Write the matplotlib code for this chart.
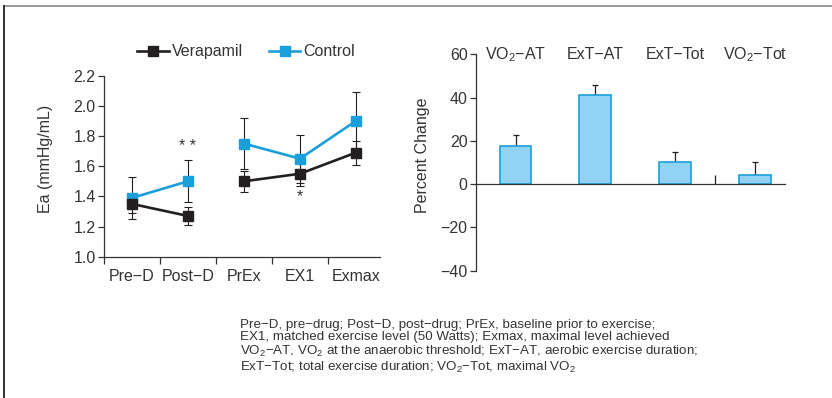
import matplotlib
matplotlib.use("Agg")
import matplotlib.pyplot as plt
from matplotlib.lines import Line2D
import numpy as np

plt.rcParams['font.family'] = ['Liberation Sans', 'DejaVu Sans']
plt.rcParams['mathtext.fontset'] = 'custom'
plt.rcParams['mathtext.rm'] = 'Liberation Sans'
plt.rcParams['mathtext.it'] = 'Liberation Sans'
plt.rcParams['axes.unicode_minus'] = True

# ---- data: left panel ----
stages = ["Pre\u2212D", "Post\u2212D", "PrEx", "EX1", "Exmax"]
verapamil = [1.35, 1.27, 1.50, 1.55, 1.69]
verapamil_err = [0.06, 0.06, 0.07, 0.08, 0.08]
control = [1.39, 1.50, 1.75, 1.65, 1.90]
control_err = [0.14, 0.14, 0.17, 0.16, 0.19]
ea_ticks = [1.0, 1.2, 1.4, 1.6, 1.8, 2.0, 2.2]

# ---- data: right panel ----
measures = ["VO$_2$\u2212AT", "ExT\u2212AT", "ExT\u2212Tot", "VO$_2$\u2212Tot"]
pct_change = [17.7, 41.0, 10.2, 4.3]
pct_err = [5.2, 5.0, 4.7, 6.0]
pct_ticks = [-40, -20, 0, 20, 40, 60]

caption = ("Pre\u2212D, pre\u2212drug; Post\u2212D, post\u2212drug; PrEx, baseline prior to exercise;\n"
           "EX1, matched exercise level (50 Watts); Exmax, maximal level achieved\n"
           "VO$_2$\u2212AT, VO$_2$ at the anaerobic threshold; ExT\u2212AT, aerobic exercise duration;\n"
           "ExT\u2212Tot; total exercise duration; VO$_2$\u2212Tot, maximal VO$_2$")

TXT = '#333333'
AX = '#333333'
BLACK = '#231f20'
BLUE = '#1a9fdb'
BAR_FILL = '#92d2f2'
BAR_EDGE = '#1ba0dc'
FS = 11.5
MS = 7

fig = plt.figure(figsize=(8.32, 3.98), dpi=100)

# frame lines
fig.add_artist(Line2D([4/832, 1], [1-6/398, 1-6/398], color='#888888', lw=1.2))
fig.add_artist(Line2D([4/832, 4/832], [0, 1-6/398], color='#111111', lw=1.2))

# ---- left panel ----
ax1 = fig.add_axes([104/832, 1-256.7/398, 276/832, 181/398])
x = np.arange(len(stages))
ax1.errorbar(x, control, yerr=control_err, fmt='none', ecolor=BLACK, elinewidth=0.8,
             capsize=3, capthick=0.8, zorder=2)
ax1.errorbar(x, verapamil, yerr=verapamil_err, fmt='none', ecolor=BLACK, elinewidth=0.8,
             capsize=3, capthick=0.8, zorder=2)
# segments: pre-drug pair and exercise triple
for seg in (slice(0, 2), slice(2, 5)):
    ax1.plot(x[seg], np.array(control)[seg], color=BLUE, lw=1.9, marker='s', ms=MS,
             zorder=3)
    ax1.plot(x[seg], np.array(verapamil)[seg], color=BLACK, lw=1.9, marker='s', ms=MS,
             zorder=4)
ax1.set_xlim(-0.5, 4.43)
ax1.set_ylim(1.0, 2.2)
ax1.set_yticks(ea_ticks)
ax1.set_yticklabels([f"{t:.1f}" for t in ea_ticks])
ax1.set_xticks(np.arange(len(stages)) - 0.5)
ax1.set_xticklabels([])
ax1.set_xticks(x, minor=True)
ax1.set_xticklabels(stages, minor=True)
ax1.tick_params(axis='x', which='major', length=5, width=0.9, color=AX)
ax1.tick_params(axis='x', which='minor', length=0, pad=9)
ax1.tick_params(axis='y', length=4, width=0.9, color=AX, pad=2)
ax1.tick_params(which='both', labelsize=FS, labelcolor=TXT)
for s in ('top', 'right'):
    ax1.spines[s].set_visible(False)
for s in ('left', 'bottom'):
    ax1.spines[s].set_color(AX)
    ax1.spines[s].set_linewidth(0.9)
ax1.set_ylabel("Ea (mmHg/mL)", fontsize=FS, color=TXT)
ax1.yaxis.set_label_coords(-0.185, 0.54)
ax1.text(1, 1.73, "* *", ha='center', va='center', fontsize=FS, color=TXT)
ax1.text(3, 1.40, "*", ha='center', va='center', fontsize=FS, color=TXT)

handles = [Line2D([], [], color=BLACK, lw=1.9, marker='s', ms=MS),
           Line2D([], [], color=BLUE, lw=1.9, marker='s', ms=MS)]
fig.legend(handles, ["Verapamil", "Control"], loc='center',
           bbox_to_anchor=(246/832, 1-51.7/398), ncol=2, frameon=False,
           fontsize=FS, handlelength=2.0, handletextpad=0.2, columnspacing=1.6,
           labelcolor=TXT)

# ---- right panel ----
ax2 = fig.add_axes([476/832, 1-270.7/398, 309/832, 216.4/398])
xb = np.arange(len(measures))
ax2.bar(xb, pct_change, width=0.4, color=BAR_FILL, edgecolor=BAR_EDGE, linewidth=1.2,
        zorder=2)
ax2.errorbar(xb, pct_change, yerr=[np.zeros(len(pct_err)), pct_err], fmt='none',
             ecolor=BLACK, elinewidth=0.9, capsize=2.5, capthick=0.9, zorder=1)
ax2.vlines([2.5], 0, 4, color=BLACK, lw=0.9)
ax2.set_xlim(-0.494, 3.37)
ax2.set_ylim(-40, 60)
ax2.set_yticks(pct_ticks)
ax2.set_yticklabels([str(t).replace('-', '\u2212') for t in pct_ticks])
ax2.set_xticks([])
ax2.spines['bottom'].set_position(('data', 0))
for s in ('top', 'right'):
    ax2.spines[s].set_visible(False)
for s in ('left', 'bottom'):
    ax2.spines[s].set_color(AX)
    ax2.spines[s].set_linewidth(0.9)
ax2.tick_params(axis='y', length=4, width=0.9, color=AX, labelsize=FS, labelcolor=TXT, pad=2)
ax2.set_ylabel("Percent Change", fontsize=FS, color=TXT)
ax2.yaxis.set_label_coords(-0.149, 0.535)
for xi, lab in zip(xb, measures):
    ax2.text(xi, 60, lab, ha='center', va='center', fontsize=FS, color=TXT)

# ---- caption ----
fig.text(240/832, 1-319/398, caption, ha='left', va='top', fontsize=9.6, color=TXT,
         linespacing=1.05)

fig.savefig("out.png", dpi=100)
